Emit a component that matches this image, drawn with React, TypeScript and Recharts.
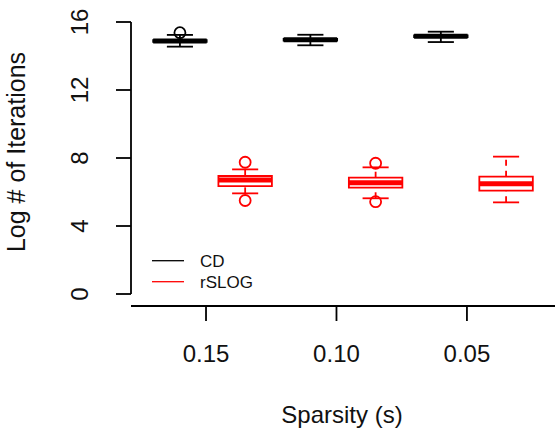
import React from 'react';
import { ComposedChart, XAxis, YAxis, ReferenceArea, ReferenceLine, Scatter, Legend, Label } from 'recharts';

const groups = ['0.15', '0.10', '0.05'];
const yTicks = [0, 4, 8, 12, 16];

// [min, q1, median, q3, max] per sparsity level
const cdStats = [
  [14.55, 14.83, 14.88, 14.93, 15.24],
  [14.63, 14.91, 14.96, 15.01, 15.25],
  [14.82, 15.11, 15.16, 15.21, 15.43],
];
const cdOutliers = [[15.37], [], []];

const rslogStats = [
  [5.92, 6.35, 6.7, 6.94, 7.33],
  [5.63, 6.26, 6.55, 6.84, 7.45],
  [5.39, 6.08, 6.49, 6.9, 8.08],
];
const rslogOutliers = [[7.75, 5.5], [7.69, 5.43], []];

const series = [
  { name: 'CD', color: '#000000', stats: cdStats, outliers: cdOutliers, slot: 0 },
  { name: 'rSLOG', color: '#ff0000', stats: rslogStats, outliers: rslogOutliers, slot: 1 },
];

const FONT = 'Liberation Sans, Arial, Helvetica, sans-serif';
const LW = 1.8;
const HALF = 0.41;
const CAP = 0.2;

const boxPos = (g: number, slot: number) => 2 * g + 1 + slot;
const tickPos = groups.map((_, g) => 2 * g + 1.4);

function renderBoxes() {
  const out: React.ReactNode[] = [];
  series.forEach((s) => {
    s.stats.forEach(([lo, q1, med, q3, hi], g) => {
      const x = boxPos(g, s.slot);
      const k = `${s.name}-${g}`;
      out.push(
        <ReferenceLine key={`${k}-wu`} segment={[{ x, y: q3 }, { x, y: hi }]} stroke={s.color} strokeWidth={LW} strokeDasharray="6 5" ifOverflow="visible" />,
        <ReferenceLine key={`${k}-wl`} segment={[{ x, y: lo }, { x, y: q1 }]} stroke={s.color} strokeWidth={LW} strokeDasharray="6 5" ifOverflow="visible" />,
        <ReferenceLine key={`${k}-cu`} segment={[{ x: x - CAP, y: hi }, { x: x + CAP, y: hi }]} stroke={s.color} strokeWidth={LW} ifOverflow="visible" />,
        <ReferenceLine key={`${k}-cl`} segment={[{ x: x - CAP, y: lo }, { x: x + CAP, y: lo }]} stroke={s.color} strokeWidth={LW} ifOverflow="visible" />,
        <ReferenceArea key={`${k}-box`} x1={x - HALF} x2={x + HALF} y1={q1} y2={q3} fill="#ffffff" fillOpacity={1} stroke={s.color} strokeWidth={LW} ifOverflow="visible" />,
        <ReferenceLine key={`${k}-med`} segment={[{ x: x - HALF, y: med }, { x: x + HALF, y: med }]} stroke={s.color} strokeWidth={5} ifOverflow="visible" />,
      );
    });
  });
  return out;
}

const outlierData = (s: typeof series[number]) =>
  s.outliers.flatMap((vals, g) => vals.map((v) => ({ x: boxPos(g, s.slot), y: v })));

const XTick = (props: any) => {
  const { x, payload } = props;
  const i = tickPos.indexOf(payload.value);
  return (
    <text x={x} y={362} textAnchor="middle" fontFamily={FONT} fontSize={24} fill="#111">
      {groups[i] ?? ''}
    </text>
  );
};

const YTick = (props: any) => {
  const { y, payload } = props;
  return (
    <text x={88} y={y} transform={`rotate(-90, 88, ${y})`} textAnchor="middle" fontFamily={FONT} fontSize={24} fill="#111">
      {payload.value}
    </text>
  );
};

const LegendBox = () => (
  <svg width={140} height={50}>
    {series.map((s, i) => (
      <g key={s.name}>
        <line x1={7} x2={39} y1={12.7 + 21 * i} y2={12.7 + 21 * i} stroke={s.color} strokeWidth={1.3} />
        <text x={55} y={18.7 + 21 * i} fontFamily={FONT} fontSize={17} fill="#111">{s.name}</text>
      </g>
    ))}
  </svg>
);

export default function App() {
  return (
    <div style={{ position: 'absolute', left: 0, top: 0, background: '#fff' }}>
      <ComposedChart width={555} height={435} margin={{ top: 10, right: 0, bottom: 0, left: 0 }}>
        <XAxis
          type="number"
          dataKey="x"
          domain={[0.25, 6.75]}
          ticks={tickPos}
          interval={0}
          height={129}
          tickSize={15}
          axisLine={{ stroke: '#000', strokeWidth: LW }}
          tickLine={{ stroke: '#000', strokeWidth: LW }}
          tick={<XTick />}
        >
          <Label
            content={() => (
              <text x={342} y={423} textAnchor="middle" fontFamily={FONT} fontSize={24} fill="#111">Sparsity (s)</text>
            )}
          />
        </XAxis>
        <YAxis
          type="number"
          dataKey="y"
          domain={[-0.706, 16.706]}
          ticks={yTicks}
          interval={0}
          width={131}
          tickSize={15}
          axisLine={false}
          tickLine={{ stroke: '#000', strokeWidth: LW }}
          tick={<YTick />}
        >
          <Label
            content={() => (
              <text x={25} y={152} transform="rotate(-90, 25, 152)" textAnchor="middle" fontFamily={FONT} fontSize={25} fill="#111">
                Log # of Iterations
              </text>
            )}
          />
        </YAxis>
        <ReferenceLine segment={[{ x: 0.25, y: 0 }, { x: 0.25, y: 16 }]} stroke="#000" strokeWidth={LW} ifOverflow="visible" />
        {renderBoxes()}
        {series.map((s) => (
          <Scatter
            key={s.name}
            name={s.name}
            data={outlierData(s)}
            isAnimationActive={false}
            shape={(p: any) => <circle cx={p.cx} cy={p.cy} r={5.5} fill="none" stroke={s.color} strokeWidth={LW} />}
          />
        ))}
        <Legend
          layout="horizontal"
          verticalAlign="middle"
          align="center"
          content={<LegendBox />}
          wrapperStyle={{ left: 145, top: 248, width: 140, height: 50 }}
        />
      </ComposedChart>
    </div>
  );
}
